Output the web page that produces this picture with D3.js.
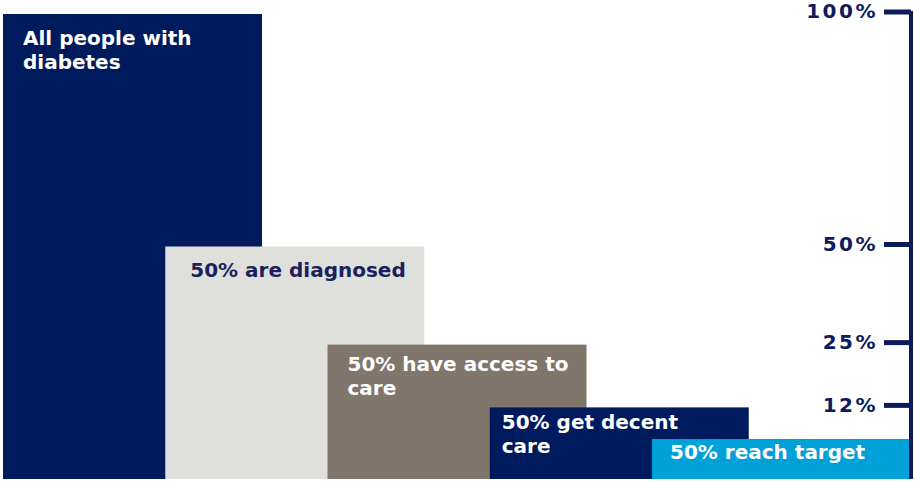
<!DOCTYPE html>
<html>
<head>
<meta charset="utf-8">
<script src="https://cdn.jsdelivr.net/npm/d3@7"></script>
<style>
  html, body { margin: 0; padding: 0; background: #ffffff; }
  svg { display: block; }
  text { font-family: "DejaVu Sans", Verdana, sans-serif; font-weight: bold; }
</style>
</head>
<body>
<svg id="chart" width="914" height="481"></svg>
<script>
// Diabetes care cascade: each step keeps half of the previous group.
const categories = [
  "All people with diabetes",
  "50% are diagnosed",
  "50% have access to care",
  "50% get decent care",
  "50% reach target"
];
const shares = [100, 50, 25, 12, 6];
const labelLines = [
  ["All people with", "diabetes"],
  ["50% are diagnosed"],
  ["50% have access to", "care"],
  ["50% get decent", "care"],
  ["50% reach target"]
];
const tickValues = [100, 50, 25, 12];

const barColors = ["#001a5e", "#dfdfdb", "#80766c", "#001a5e", "#00a0d8"];
const textColors = ["#ffffff", "#1b1f5f", "#ffffff", "#ffffff", "#ffffff"];
// caption inset from each bar's top-left corner (x, baseline)
const captionInset = [[20, 31], [25, 30], [20, 26], [12, 22], [18, 20]];
const navy = "#0d1a5c";

const svg = d3.select("#chart");
const plotTop = 14, plotBottom = 479;
const barWidth = 259;

// The small steps are drawn taller than proportional so their captions fit.
const heightShare = d3.scaleLinear()
  .domain([0, 6, 12, 25, 50, 100])
  .range([0, 0.086, 0.154, 0.289, 0.5, 1]);
const yFrac = d3.scaleLinear().domain([0, 1]).range([plotBottom, plotTop]);
const y = v => yFrac(heightShare(v));

const x = d3.scalePoint().domain(categories).range([3, 652]);

const rows = categories.map((c, i) => ({
  cat: c, value: shares[i], lines: labelLines[i],
  fill: barColors[i], ink: textColors[i], inset: captionInset[i]
}));

const g = svg.append("g");
const bars = g.selectAll("g.step").data(rows).join("g").attr("class", "step");

bars.append("rect")
  .attr("x", d => x(d.cat))
  .attr("y", d => y(d.value))
  .attr("width", barWidth)
  .attr("height", d => plotBottom - y(d.value))
  .attr("fill", d => d.fill);

bars.append("text")
  .attr("fill", d => d.ink)
  .attr("font-size", 20)
  .attr("transform", d => `translate(${x(d.cat) + d.inset[0]},${y(d.value) + d.inset[1]})`)
  .selectAll("tspan")
  .data(d => d.lines)
  .join("tspan")
  .attr("x", 0)
  .attr("dy", (d, i) => i === 0 ? 0 : 24)
  .text(d => d);

// Right-hand scale
const axisX = 911;
const axis = d3.axisLeft(d3.scaleLinear().domain([0, 100]).range([plotBottom, plotTop]))
  .tickValues(tickValues)
  .tickSize(27)
  .tickSizeOuter(0)
  .tickPadding(6)
  .tickFormat(d => d + "%");

const axisG = svg.append("g")
  .attr("transform", `translate(${axisX},0)`)
  .call(axis);

// Place ticks on the same stepped scale as the bars
axisG.selectAll(".tick").attr("transform", d => `translate(0,${y(d) - 2})`);
axisG.select(".domain")
  .attr("d", `M0,${y(100) - 3}V${plotBottom}`)
  .attr("stroke", navy)
  .attr("stroke-width", 4);
axisG.selectAll(".tick line").attr("stroke", navy).attr("stroke-width", 5);
axisG.selectAll(".tick text")
  .attr("fill", navy)
  .attr("font-size", 20)
  .attr("letter-spacing", 2.5)
  .style("font-family", '"DejaVu Sans", Verdana, sans-serif')
  .style("font-weight", "bold");
</script>
</body>
</html>
